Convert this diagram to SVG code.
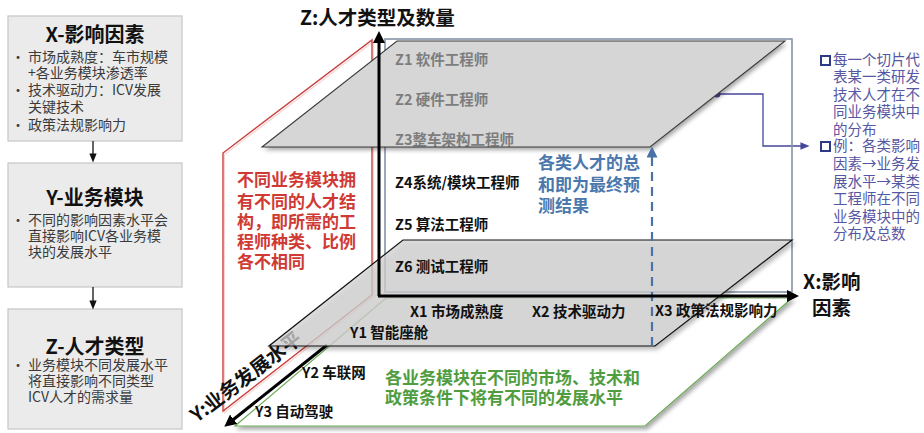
<svg xmlns="http://www.w3.org/2000/svg" width="924" height="433" viewBox="0 0 924 433">
<style>
text{font-family:"Noto Sans CJK SC","Noto Sans",sans-serif;}
.box{fill:#ebebeb;stroke:#c6c6c6;stroke-width:1.2;}
.ttl{font-size:20px;font-weight:bold;fill:#111;text-anchor:middle;}
.bt{font-size:14px;fill:#3a3a3a;}
.zl{font-size:14.5px;font-weight:bold;fill:#111;}
.zg{font-size:14.5px;font-weight:bold;fill:#7d7d7d;}
.red{font-size:17px;font-weight:bold;fill:#cf3a35;}
.blu{font-size:17px;font-weight:bold;fill:#4a78ad;}
.grn{font-size:17px;font-weight:bold;fill:#4f9d3f;}
.ax{font-size:19.5px;font-weight:bold;fill:#111;}
.ann{font-size:14.5px;fill:#5657a3;}
.axis{stroke:#000;stroke-width:3;fill:none;}
</style>
<defs>
<marker id="ah" viewBox="0 0 10 10" refX="5" refY="5" markerWidth="4" markerHeight="4" orient="auto-start-reverse"><path d="M0,0 L10,5 L0,10 z" fill="#000"/></marker>
<marker id="ahs" viewBox="0 0 10 10" refX="5" refY="5" markerWidth="7" markerHeight="7" orient="auto"><path d="M0,1 L10,5 L0,9 z" fill="#111"/></marker>
<marker id="ahb" viewBox="0 0 10 10" refX="5" refY="5" markerWidth="5" markerHeight="5" orient="auto"><path d="M0,0 L10,5 L0,10 z" fill="#4a72a8"/></marker>
<marker id="ahp" viewBox="0 0 10 10" refX="5" refY="5" markerWidth="7" markerHeight="7" orient="auto"><path d="M0,1 L10,5 L0,9 z" fill="#45479a"/></marker>
<filter id="sh" x="-10%" y="-10%" width="130%" height="140%"><feDropShadow dx="2" dy="3" stdDeviation="2" flood-color="#000" flood-opacity="0.35"/></filter>
</defs>

<!-- Left boxes -->
<g id="node-x">
<rect class="box" x="8" y="16" width="174" height="125"/>
<text class="ttl" x="95" y="42">X-影响因素</text>
<text class="bt" x="11" y="61.5">•</text><text class="bt" x="28" y="61.5">市场成熟度：车市规模</text>
<text class="bt" x="28" y="77.5">+各业务模块渗透率</text>
<text class="bt" x="11" y="94.5">•</text><text class="bt" x="28" y="94.5">技术驱动力：ICV发展</text>
<text class="bt" x="28" y="111.5">关键技术</text>
<text class="bt" x="11" y="129.5">•</text><text class="bt" x="28" y="129.5">政策法规影响力</text>
</g>
<g id="node-y">
<rect class="box" x="8" y="163" width="174" height="124"/>
<text class="ttl" x="95" y="205">Y-业务模块</text>
<text class="bt" x="11" y="225">•</text><text class="bt" x="28" y="225">不同的影响因素水平会</text>
<text class="bt" x="28" y="241">直接影响ICV各业务模</text>
<text class="bt" x="28" y="257">块的发展水平</text>
</g>
<g id="node-z">
<rect class="box" x="8" y="309" width="174" height="120"/>
<text class="ttl" x="95" y="354">Z-人才类型</text>
<text class="bt" x="11" y="370">•</text><text class="bt" x="28" y="370">业务模块不同发展水平</text>
<text class="bt" x="28" y="386">将直接影响不同类型</text>
<text class="bt" x="28" y="402">ICV人才的需求量</text>
</g>
<g id="connectors">
<line x1="93" y1="141" x2="93" y2="158" stroke="#111" stroke-width="1.3" marker-end="url(#ahs)"/>
<line x1="93" y1="287" x2="93" y2="305" stroke="#111" stroke-width="1.3" marker-end="url(#ahs)"/>
<polyline points="717,94 763,94 763,146 805,146" fill="none" stroke="#45479a" stroke-width="1.3" marker-end="url(#ahp)"/>
<circle cx="717" cy="94" r="3.5" fill="#4a4aa8"/>
</g>

<!-- Green base plane -->
<g id="plane-base">
<polygon points="386,298 792,298 645,426 235,426" fill="#fff" stroke="#6aaa55" stroke-width="1.2" filter="url(#sh)"/>
<text class="grn" x="385" y="384">各业务模块在不同的市场、技术和</text>
<text class="grn" x="385" y="404">政策条件下将有不同的发展水平</text>
</g>

<!-- Red plane -->
<g id="plane-red">
<polygon points="373.5,41.5 373.5,296.5 224.5,412.5 224.5,154.5" fill="none" stroke="#f5d6d6" stroke-width="1.2"/>
<polygon points="372,40 372,295 223,411 223,153" fill="none" stroke="#c9403c" stroke-width="1.4"/>
<text class="red" x="237" y="186">不同业务模块拥</text>
<text class="red" x="237" y="208">有不同的人才结</text>
<text class="red" x="237" y="228">构，即所需的工</text>
<text class="red" x="237" y="248">程师种类、比例</text>
<text class="red" x="237" y="268">各不相同</text>
</g>

<!-- Front face frame -->
<rect x="385" y="39" width="407" height="253" fill="none" stroke="#8594a8" stroke-width="1.6"/>

<!-- Y axis and label -->
<g id="axis-y">
<line class="axis" x1="327" y1="345" x2="229" y2="423" marker-end="url(#ah)"/>
<text class="ax" transform="translate(197,423) rotate(-37.5)">Y:业务发展水平</text>
</g>

<!-- Top slice -->
<g id="slice-top">
<polygon points="397,41 785,41 650,147 262,147" fill="#d6d6d6" filter="url(#sh)"/>
<text class="zg" x="395" y="65">Z1 软件工程师</text>
<text class="zg" x="395" y="105">Z2 硬件工程师</text>
<text class="zg" x="395" y="145">Z3整车架构工程师</text>
<polygon points="397,41 785,41 650,147 262,147" fill="none" stroke="#3a3a3a" stroke-width="1.1"/>
</g>

<!-- Middle labels -->
<g id="mid-labels">
<text class="zl" x="395" y="188">Z4系统/模块工程师</text>
<text class="zl" x="395" y="230">Z5 算法工程师</text>
<text class="blu" x="538" y="169">各类人才的总</text>
<text class="blu" x="538" y="191">和即为最终预</text>
<text class="blu" x="538" y="212">测结果</text>
</g>

<!-- Lower slice -->
<g id="slice-bottom">
<polygon points="403,240 792,240 655,346 269,346" fill="#d3d3d3" fill-opacity="0.72" stroke="#111" stroke-width="1.2" filter="url(#sh)"/>
<text class="zl" x="395" y="272">Z6 测试工程师</text>
<text class="zl" x="410" y="317">X1 市场成熟度</text>
<text class="zl" x="532" y="317">X2 技术驱动力</text>
<text class="zl" x="655" y="316">X3 政策法规影响力</text>
<text class="zl" x="350" y="338">Y1 智能座舱</text>
</g>

<text class="zl" x="302" y="378">Y2 车联网</text>
<text class="zl" x="255" y="417">Y3 自动驾驶</text>

<!-- Dashed sum arrow -->
<line x1="652" y1="346" x2="652" y2="152" stroke="#4a72a8" stroke-width="2.2" stroke-dasharray="9 6" marker-end="url(#ahb)"/>

<!-- Z and X axes -->
<g id="axes">
<line class="axis" x1="379" y1="296" x2="379" y2="37" marker-end="url(#ah)"/>
<line class="axis" x1="378" y1="296" x2="793" y2="296" marker-end="url(#ah)"/>
<text class="ax" x="300" y="25">Z:人才类型及数量</text>
<text class="ax" x="803" y="289">X:影响</text>
<text class="ax" x="812" y="315">因素</text>
</g>

<!-- Right annotations -->
<g id="annotation">
<rect x="821" y="56" width="9" height="9" fill="none" stroke="#2e3a87" stroke-width="2"/>
<text class="ann" x="833" y="65">每一个切片代</text>
<text class="ann" x="833" y="82.4">表某一类研发</text>
<text class="ann" x="833" y="99.8">技术人才在不</text>
<text class="ann" x="833" y="117.2">同业务模块中</text>
<text class="ann" x="833" y="134.6">的分布</text>
<rect x="821" y="142" width="9" height="9" fill="none" stroke="#2e3a87" stroke-width="2"/>
<text class="ann" x="833" y="151">例：各类影响</text>
<text class="ann" x="833" y="169">因素→业务发</text>
<text class="ann" x="833" y="186.5">展水平→某类</text>
<text class="ann" x="833" y="204">工程师在不同</text>
<text class="ann" x="833" y="221.5">业务模块中的</text>
<text class="ann" x="833" y="239">分布及总数</text>
</g>
</svg>
